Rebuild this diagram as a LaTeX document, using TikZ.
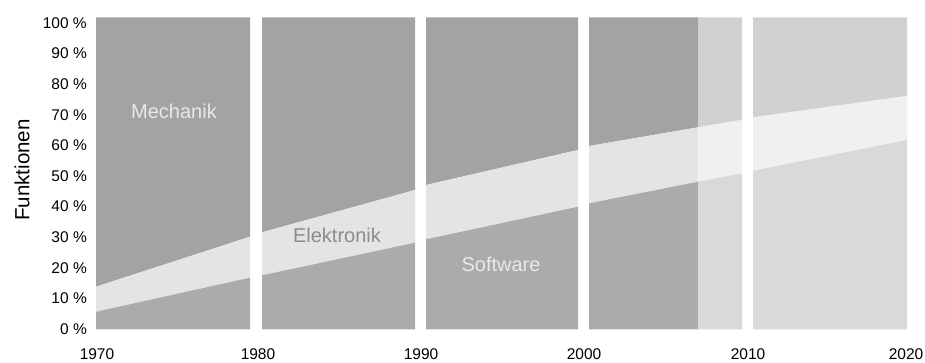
\documentclass[tikz,border=0pt]{standalone}
\usepackage{fontspec}
\setmainfont{Liberation Sans}
\definecolor{mech}{HTML}{A3A3A3}
\definecolor{soft}{HTML}{ABABAB}
\definecolor{band}{HTML}{E4E4E4}
\definecolor{mechL}{HTML}{D1D1D1}
\definecolor{softL}{HTML}{D9D9D9}
\definecolor{bandL}{HTML}{F0F0F0}
\definecolor{lblW}{HTML}{E8E8E8}
\definecolor{lblG}{HTML}{8C8C8C}
% x1 x2 lower1 lower2 upper1 upper2 topcol bandcol botcol
\newcommand\drawbarseg[9]{%
  \fill[#7] (#1,344.5) -- (#2,344.5) -- (#2,#6) -- (#1,#5) -- cycle;
  \fill[#8] (#1,#5) -- (#2,#6) -- (#2,#4) -- (#1,#3) -- cycle;
  \fill[#9] (#1,#3) -- (#2,#4) -- (#2,32.7) -- (#1,32.7) -- cycle;
}
\begin{document}
\begin{tikzpicture}[x=1pt,y=1pt,
  tick/.style={anchor=east,inner sep=0pt,font=\fontsize{15.5}{18}\selectfont},
  year/.style={anchor=base,inner sep=0pt,font=\fontsize{15.5}{18}\selectfont},
  region/.style={anchor=center,inner sep=0pt,font=\fontsize{20}{24}\selectfont}]
\useasboundingbox (0,0) rectangle (925,362);
\fill[white] (0,0) rectangle (925,362);
% bars
\drawbarseg{96}{250}{50.3}{84.3}{75.3}{125.3}{mech}{band}{soft}
\drawbarseg{262}{415}{86.7}{119.3}{129.7}{172}{mech}{band}{soft}
\drawbarseg{426}{578}{122.7}{155.3}{177}{212}{mech}{band}{soft}
\drawbarseg{589}{698}{158.7}{180.3}{216}{234.7}{mech}{band}{soft}
\drawbarseg{698}{742}{180.3}{188.7}{234.7}{242}{mechL}{bandL}{softL}
\drawbarseg{753}{907}{191.3}{222}{244.7}{266}{mechL}{bandL}{softL}
% y tick labels
\foreach \k in {0,...,10}{
  \pgfmathsetmacro{\yy}{362-(329.3-30.66*\k)}
  \node[tick] (t\k) at (87,\yy) {\the\numexpr\k*10\relax\ \%};
}
\node[rotate=90,inner sep=0pt,font=\fontsize{20.5}{24}\selectfont] (ylab) at (22,192) {Funktionen};
% years
\node[year] (y1970) at (97,2.5) {1970};
\node[year] (y1980) at (258,2.5) {1980};
\node[year] (y1990) at (421,2.5) {1990};
\node[year] (y2000) at (584,2.5) {2000};
\node[year] (y2010) at (748,2.5) {2010};
\node[year] (y2020) at (906,2.5) {2020};
% region labels
\node[region,text=lblW] (mechanik) at (174,250.3) {Mechanik};
\node[region,text=lblG] (elektronik) at (337,126.3) {Elektronik};
\node[region,text=lblW] (software) at (501,98) {Software};
\end{tikzpicture}
\end{document}
